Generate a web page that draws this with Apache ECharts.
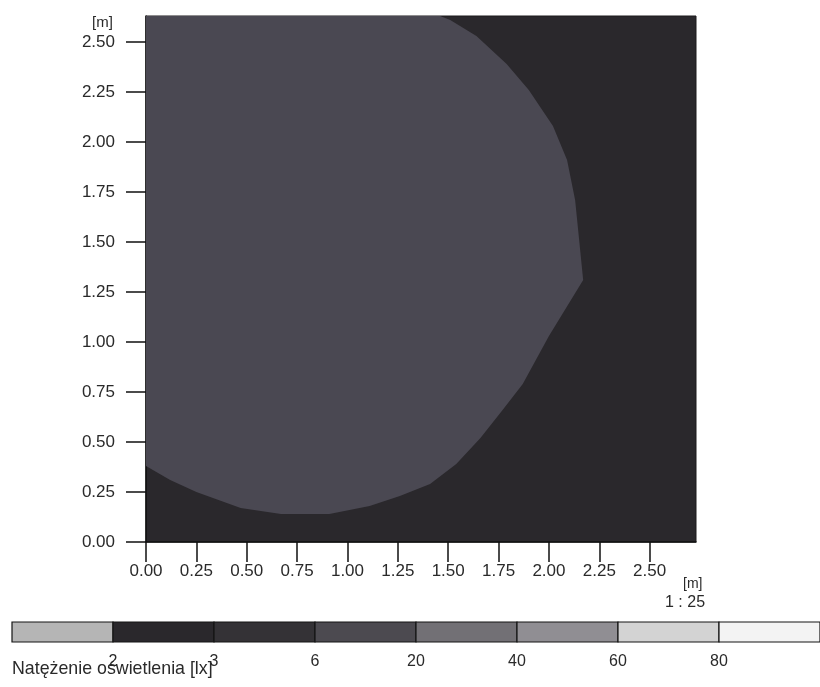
<!DOCTYPE html>
<html>
<head>
<meta charset="utf-8">
<script src="https://cdn.jsdelivr.net/npm/echarts@6/dist/echarts.min.js"></script>
<style>html,body{margin:0;padding:0;background:#fff}#c{width:820px;height:687px}</style>
</head>
<body>
<div id="c"></div>
<script>
// Room extent [m]
const xMax = 2.73;
const yMax = 2.63;
// Axis tick values [m]
const xTicks = [0, 0.25, 0.5, 0.75, 1.0, 1.25, 1.5, 1.75, 2.0, 2.25, 2.5];
const yTicks = [0, 0.25, 0.5, 0.75, 1.0, 1.25, 1.5, 1.75, 2.0, 2.25, 2.5];
// Isoline boundary of the brighter (6-20 lx) zone [m]
const boundaryX = [0, 1.46, 1.51, 1.64, 1.79, 1.90, 2.02, 2.09, 2.13, 2.15, 2.17, 2.00, 1.87, 1.77, 1.66, 1.54, 1.41, 1.26, 1.11, 0.91, 0.67, 0.47, 0.25, 0.12, 0];
const boundaryY = [2.63, 2.63, 2.61, 2.53, 2.39, 2.26, 2.08, 1.91, 1.71, 1.51, 1.31, 1.03, 0.79, 0.66, 0.52, 0.39, 0.29, 0.23, 0.18, 0.14, 0.14, 0.17, 0.25, 0.31, 0.38];
// Illuminance scale [lx]
const scaleThresholds = ['2', '3', '6', '20', '40', '60', '80'];
const scaleColors = ['#b5b5b5', '#2a282c', '#343236', '#4c4a50', '#727075', '#908e93', '#d3d3d3', '#f3f3f3'];
const zoneColors = { background: '#2a282c', bright: '#4a4852' };

const FONT = 'Liberation Sans, Arial, sans-serif';
const TXT = '#2a2a2a';

const chart = echarts.init(document.getElementById('c'), null, { renderer: 'canvas' });

const segIdx = scaleColors.map((c, i) => [i, i + 1]);

chart.setOption({
  animation: false,
  grid: [
    { left: 146, top: 16, width: 550, height: 526, show: true, backgroundColor: zoneColors.background, borderColor: '#1c1b1d', borderWidth: 1 },
    { left: 12, top: 622, width: 816, height: 20 }
  ],
  xAxis: [
    {
      gridIndex: 0, type: 'value', min: 0, max: xMax,
      axisLine: { show: true, onZero: false, lineStyle: { color: '#111', width: 1.5 } },
      axisTick: { show: true, length: 20, customValues: xTicks, lineStyle: { color: '#111', width: 1.5 } },
      axisLabel: { customValues: xTicks, margin: 21, fontSize: 17, color: TXT, fontFamily: FONT, formatter: v => v.toFixed(2) },
      splitLine: { show: false }
    },
    {
      gridIndex: 1, type: 'value', min: 0, max: 8,
      axisLine: { show: false },
      axisTick: { show: false },
      axisLabel: { customValues: [1, 2, 3, 4, 5, 6, 7], margin: 12, fontSize: 16, color: TXT, fontFamily: FONT, formatter: v => scaleThresholds[Math.round(v) - 1] },
      splitLine: { show: false }
    }
  ],
  yAxis: [
    {
      gridIndex: 0, type: 'value', min: 0, max: yMax,
      axisLine: { show: true, onZero: false, lineStyle: { color: '#111', width: 1.5 } },
      axisTick: { show: true, length: 20, customValues: yTicks, lineStyle: { color: '#111', width: 1.5 } },
      axisLabel: { customValues: yTicks, margin: 31, fontSize: 17, color: TXT, fontFamily: FONT, formatter: v => v.toFixed(2) },
      splitLine: { show: false }
    },
    {
      gridIndex: 1, type: 'value', min: 0, max: 1, show: false
    }
  ],
  series: [
    {
      type: 'custom',
      xAxisIndex: 0, yAxisIndex: 0,
      clip: true,
      data: [[0, 0]],
      renderItem: function (params, api) {
        const pts = boundaryX.map((x, i) => api.coord([x, boundaryY[i]]));
        return {
          type: 'polygon',
          shape: { points: pts },
          style: { fill: zoneColors.bright, stroke: null }
        };
      }
    },
    {
      type: 'custom',
      xAxisIndex: 1, yAxisIndex: 1,
      data: segIdx,
      renderItem: function (params, api) {
        const a = api.coord([api.value(0), 1]);
        const b = api.coord([api.value(1), 0]);
        return {
          type: 'rect',
          shape: { x: a[0], y: a[1], width: b[0] - a[0], height: b[1] - a[1] },
          style: { fill: scaleColors[params.dataIndex], stroke: '#151515', lineWidth: 1.2 }
        };
      }
    }
  ],
  graphic: [
    { type: 'text', left: 92, top: 15, style: { text: '[m]', fontSize: 15, fill: TXT, fontFamily: FONT } },
    { type: 'text', left: 683, top: 577, style: { text: '[m]', fontSize: 14, fill: TXT, fontFamily: FONT } },
    { type: 'text', left: 665, top: 595, style: { text: '1 : 25', fontSize: 16, fill: TXT, fontFamily: FONT } },
    { type: 'text', left: 12, top: 660, style: { text: 'Natężenie oświetlenia [lx]', fontSize: 17.8, fill: TXT, fontFamily: FONT } }
  ]
});
</script>
</body>
</html>
